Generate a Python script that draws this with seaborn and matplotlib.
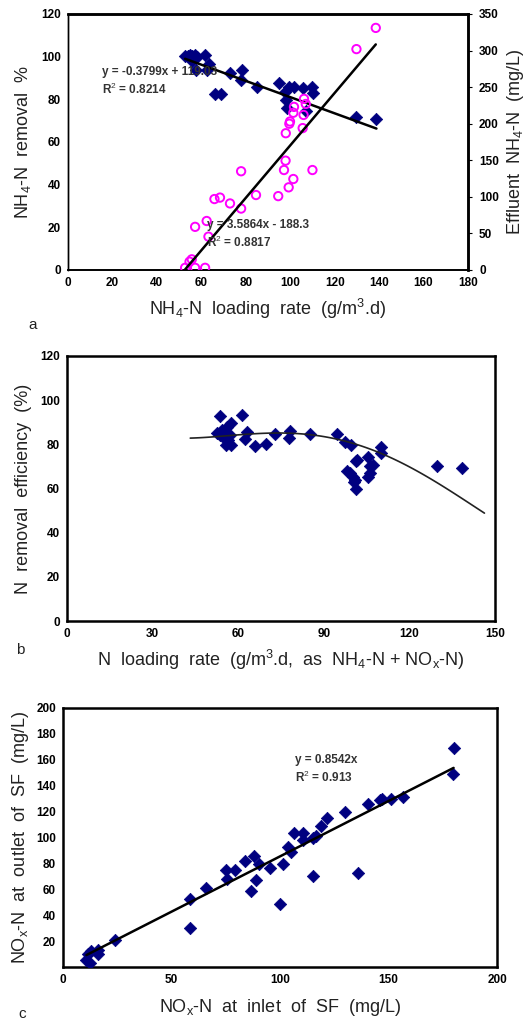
import numpy as np
import pandas as pd
import matplotlib
matplotlib.use("Agg")
import matplotlib.pyplot as plt
import seaborn as sns

# ---------------- data ----------------
# Panel a: NH4-N removal (%) (left axis) and effluent NH4-N (mg/L) (right axis)
a_rem_x = [52.7, 54, 55, 56, 57, 58, 56, 57.7, 61.7, 62.7, 63.5, 66.2, 68.7, 72.9, 78.2, 77.7,
           84.9, 95.1, 97.6, 99.6, 101.7, 98, 98.6, 105.9, 107, 110, 110.3, 129.8, 138.8]
a_rem_y = [100.5, 100.5, 100.8, 100.5, 100.8, 100, 98, 93.9, 100.8, 93.7, 96.6, 82.3, 82.3, 92.5, 93.7, 89,
           85.6, 87.8, 83.6, 85.6, 85.6, 79.7, 76, 85.5, 74.5, 86, 83, 71.9, 70.8]
a_eff_x = [138.5, 129.8, 106.2, 101.7, 101.4, 107, 106, 99.9, 99.6, 98, 105.6, 97.9, 97.2, 110, 101.4,
           99.3, 77.9, 94.6, 84.6, 65.9, 68.4, 72.9, 77.9, 62.4, 57.2, 63.2, 55.7, 54.7, 52.7, 57.2, 61.7]
a_eff_y = [331, 302, 234, 223, 215, 227, 212, 203, 200, 187, 194, 149.5, 136.7, 136.7, 124.4,
           113, 135, 101, 102.5, 97, 99, 91, 84, 67, 59, 45.6, 14.6, 11.4, 3, 3, 3]
a_rem_fit = (-0.3799, 119.03)
a_eff_fit = (3.5864, -188.3)
a_rem_label = "y = -0.3799x + 119.03\nR$^2$ = 0.8214"
a_eff_label = "y = 3.5864x - 188.3\nR$^2$ = 0.8817"

# Panel b: N removal efficiency (%)
b_x = [53.5, 61.5, 52.5, 54.3, 56, 57.5, 54.8, 56.6, 55.8, 57.4, 53.7, 55.4, 57.2, 63, 62.4, 66,
       69.6, 72.9, 78, 77.7, 85, 94.8, 97.5, 99.6, 98, 99.2, 100.2, 100.6, 101.3, 101.3, 101.8,
       100.9, 105.6, 106.2, 105.6, 106.2, 107.1, 110, 110, 129.8, 138.3]
b_y = [92.7, 93.4, 85, 86.5, 88, 89.8, 83.5, 82, 79.7, 79.7, 84.2, 85.7, 84.2, 85.7, 82.4, 79.2,
       80.2, 84.7, 86.2, 82.7, 84.7, 84.5, 81.2, 79.7, 68, 66.9, 65.3, 63.1, 59.6, 72.6, 72.9,
       63.8, 74.1, 70.2, 65.3, 67.2, 70.5, 78.6, 76.2, 70.3, 69.4]
# trend curve points
b_curve_x = [43.2, 52.5, 64.2, 75.9, 87.6, 94.6, 101.6, 110.9, 119.1, 128.4, 136.6, 146.3]
b_curve_y = [82.7, 83.8, 84.6, 84.7, 84.1, 82.8, 79.9, 75.2, 70.2, 63.8, 57.1, 48.8]

# Panel c: NOx-N at inlet vs outlet of SF (mg/L)
c_x = [10.8, 12.6, 11.4, 12.9, 15.9, 16.1, 24.1, 58.4, 58.7, 65.9, 75.3, 75.6, 79.1, 83.7, 87.9,
       86.6, 89.1, 90.5, 95.5, 101.4, 100.2, 103.7, 105.2, 106.3, 110.6, 110.6, 115.2, 116.7,
       115.2, 118.9, 121.7, 129.8, 135.8, 140.4, 146.2, 147, 151.2, 156.7, 180, 179.6]
c_y = [5.7, 3.3, 10.3, 12.1, 13.4, 9.8, 21.1, 52.8, 30.1, 61.3, 75.2, 68.2, 75.2, 81.9, 85.5,
       58.7, 67.4, 79.3, 76.7, 79.3, 48.9, 92.7, 88.8, 103.7, 103.5, 97.8, 99.8, 101.2,
       70.3, 108.6, 115.1, 119.7, 72.8, 125.6, 129.2, 130, 130, 131.3, 169.4, 149.3]
c_slope = 0.8542
c_label = "y = 0.8542x\nR$^2$ = 0.913"

# ---------------- style ----------------
sns.set_theme(style="white")
plt.rcParams["font.family"] = ["Liberation Sans", "DejaVu Sans"]
plt.rcParams["mathtext.fontset"] = "custom"
plt.rcParams["mathtext.rm"] = "Liberation Sans"
plt.rcParams["mathtext.it"] = "Liberation Sans"
plt.rcParams["mathtext.bf"] = "Liberation Sans:bold"

NAVY = "#000080"
MAG = "#ff00ff"
LABC = "#222222"
TICKFS = 8.5
LABFS = 13

fig = plt.figure(figsize=(5.28, 10.23), dpi=100)
W, H = 528, 1023


def add_ax(l, t, r, b):
    return fig.add_axes([l / W, 1 - b / H, (r - l) / W, (b - t) / H])


def style_ticks(ax):
    for lab in ax.get_xticklabels() + ax.get_yticklabels():
        lab.set_fontweight("bold")
        lab.set_fontsize(TICKFS)
    for s in ax.spines.values():
        s.set_color("black")
        s.set_linewidth(1.8)
    ax.tick_params(axis="both", direction="in", length=3, width=0.8, colors="black",
                   labelsize=TICKFS, pad=5)


# ---------------- panel a ----------------
ax = add_ax(68, 14, 468, 270)
df_ar = pd.DataFrame({"x": a_rem_x, "y": a_rem_y})
sns.scatterplot(data=df_ar, x="x", y="y", ax=ax, marker="D", s=40, color=NAVY,
                edgecolor=NAVY, linewidth=0.5, zorder=3)
xr = np.array([min(a_rem_x), max(a_rem_x)])
sns.lineplot(x=xr, y=a_rem_fit[0] * xr + a_rem_fit[1], ax=ax, color="black", lw=1.8, zorder=4)
ax.set_xlim(0, 180)
ax.set_ylim(0, 120)
ax.set_xticks(range(0, 181, 20))
ax.set_yticks(range(0, 121, 20))
ax.set_xlabel("NH$_4$-N  loading  rate  (g/m$^3$.d)", fontsize=LABFS, color=LABC, labelpad=6)
ax.set_ylabel("NH$_4$-N  removal  %", fontsize=LABFS, color=LABC, labelpad=6)
style_ticks(ax)
ax.tick_params(axis="y", length=0)
ax.spines["left"].set_linewidth(1.0)
ax.spines["bottom"].set_linewidth(1.2)

ax2 = ax.twinx()
df_ae = pd.DataFrame({"x": a_eff_x, "y": a_eff_y})
sns.scatterplot(data=df_ae, x="x", y="y", ax=ax2, marker="o", s=36, facecolor="none",
                edgecolor=MAG, linewidth=1.4, zorder=3)
xe = np.array([-a_eff_fit[1] / a_eff_fit[0], max(a_eff_x)])
sns.lineplot(x=xe, y=a_eff_fit[0] * xe + a_eff_fit[1], ax=ax2, color="black", lw=1.8, zorder=4)
ax2.set_ylim(0, 350)
ax2.set_yticks(range(0, 351, 50))
ax2.set_ylabel("Effluent  NH$_4$-N  (mg/L)", fontsize=LABFS, color=LABC, labelpad=4)
ax2.set_xlabel("")
style_ticks(ax2)
ax2.tick_params(axis="y", direction="out", length=3)
ax2.spines["left"].set_linewidth(1.0)
ax2.spines["bottom"].set_linewidth(1.2)
# annotations placed in left-axis data units, drawn on top
ax2.text(15.3, 88.3, a_rem_label, transform=ax.transData, fontsize=8.5, fontweight="bold",
         color="#333333", va="center", ha="left", zorder=5, linespacing=1.3)
ax2.text(62.4, 16.5, a_eff_label, transform=ax.transData, fontsize=8.5, fontweight="bold",
         color="#333333", va="center", ha="left", zorder=5, linespacing=1.3)
fig.text(28 / W, 1 - 325 / H, "a", fontsize=11, color=LABC, ha="left", va="center")

# ---------------- panel b ----------------
ax = add_ax(67, 356, 495, 621)
df_b = pd.DataFrame({"x": b_x, "y": b_y})
sns.scatterplot(data=df_b, x="x", y="y", ax=ax, marker="D", s=40, color=NAVY,
                edgecolor=NAVY, linewidth=0.5, zorder=3)
coef = np.polyfit(b_curve_x, b_curve_y, 4)
xs = np.linspace(min(b_curve_x), max(b_curve_x), 100)
sns.lineplot(x=xs, y=np.polyval(coef, xs), ax=ax, color="#222222", lw=1.2, zorder=4)
ax.set_xlim(0, 150)
ax.set_ylim(0, 120)
ax.set_xticks(range(0, 151, 30))
ax.set_yticks(range(0, 121, 20))
ax.set_xlabel("N  loading  rate  (g/m$^3$.d,  as  NH$_4$-N + NO$_x$-N)", fontsize=LABFS,
              color=LABC, labelpad=6)
ax.set_ylabel("N  removal  efficiency  (%)", fontsize=LABFS, color=LABC, labelpad=6)
style_ticks(ax)
ax.tick_params(axis="y", length=0)
fig.text(16 / W, 1 - 650 / H, "b", fontsize=11, color=LABC, ha="left", va="center")

# ---------------- panel c ----------------
ax = add_ax(63, 708, 497, 967)
df_c = pd.DataFrame({"x": c_x, "y": c_y})
sns.scatterplot(data=df_c, x="x", y="y", ax=ax, marker="D", s=40, color=NAVY,
                edgecolor=NAVY, linewidth=0.5, zorder=3)
xc = np.array([min(c_x), max(c_x)])
sns.lineplot(x=xc, y=c_slope * xc, ax=ax, color="black", lw=1.8, zorder=4)
ax.set_xlim(0, 200)
ax.set_ylim(0, 200)
ax.set_xticks(range(0, 201, 50))
ax.set_yticks(range(20, 201, 20))
ax.set_xlabel("NO$_x$-N  at  inlet  of  SF  (mg/L)", fontsize=LABFS, color=LABC, labelpad=8)
ax.set_ylabel("NO$_x$-N  at  outlet  of  SF  (mg/L)", fontsize=LABFS, color=LABC, labelpad=4)
style_ticks(ax)
ax.tick_params(axis="y", length=0)
ax.text(107, 152.4, c_label, fontsize=8.5, fontweight="bold", color="#333333",
        va="center", ha="left", zorder=5, linespacing=1.3)
fig.text(18 / W, 1 - 1014 / H, "c", fontsize=11, color=LABC, ha="left", va="center")

fig.savefig("out.png", dpi=100)
